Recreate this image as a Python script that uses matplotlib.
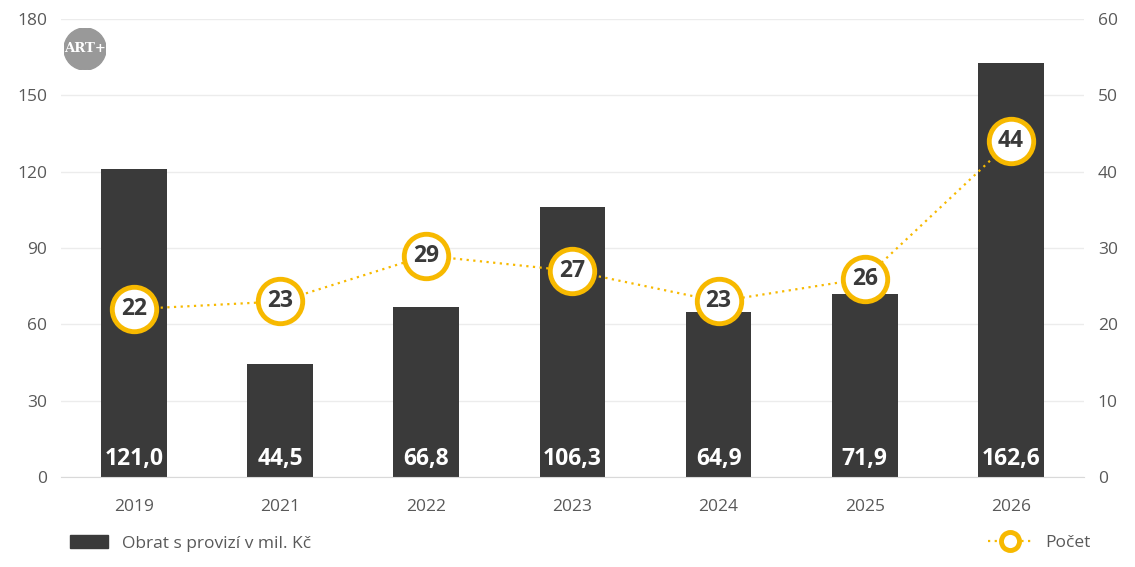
import numpy as np
import matplotlib.pyplot as plt
from matplotlib.lines import Line2D
from matplotlib.patches import Patch

plt.rcParams['font.family'] = ['Open Sans', 'DejaVu Sans']

roky = ['2019', '2021', '2022', '2023', '2024', '2025', '2026']
obrat = [121.0, 44.5, 66.8, 106.3, 64.9, 71.9, 162.6]
pocet = [22, 23, 29, 27, 23, 26, 44]

tmava = '#3a3a3a'
zluta = '#f7b900'
seda = '#595959'

fig = plt.figure(figsize=(11.35, 5.67), dpi=100)
ax = fig.add_axes([0.0537, 0.1587, 0.9013, 0.8078])
ax2 = ax.twinx()

x = np.arange(len(roky))
ax.bar(x, obrat, width=0.45, color=tmava, zorder=2)
for xi, v in zip(x, obrat):
    ax.text(xi, 2.5, f'{v:.1f}'.replace('.', ','), ha='center', va='bottom',
            color='white', fontsize=16.5, fontweight='bold', zorder=3)

ax.set_xlim(-0.5, len(roky) - 0.5)
ax.set_ylim(0, 180)
ax.set_yticks(np.arange(0, 181, 30))
ax.set_xticks(x)
ax.set_xticklabels(roky)
ax.grid(axis='y', color='#ececec', linewidth=1, zorder=0)
ax.set_axisbelow(True)

ax2.plot(x, pocet, linestyle=(0, (1, 2)), color=zluta, linewidth=1.6,
         marker='o', markersize=32, markerfacecolor='white',
         markeredgecolor=zluta, markeredgewidth=3.5, zorder=4)
for xi, v in zip(x, pocet):
    ax2.text(xi, v, str(v), ha='center', va='center', color='#3a3a3a',
             fontsize=16.5, fontweight='bold', zorder=5)
ax2.set_ylim(0, 60)
ax2.set_yticks(np.arange(0, 61, 10))

for a in (ax, ax2):
    for s in a.spines.values():
        s.set_visible(False)
    a.tick_params(length=0, colors=seda, labelsize=12.5)
ax.spines['bottom'].set_visible(True)
ax.spines['bottom'].set_color('#d9d9d9')
ax.tick_params(axis='x', pad=16)
ax.tick_params(axis='y', pad=10)
ax2.tick_params(axis='y', pad=10)

# logo
logo = fig.add_axes([64 / 1135, 1 - 70 / 567, 42 / 1135, 42 / 567])
logo.add_patch(plt.Circle((0.5, 0.5), 0.5, color='#999999'))
logo.text(0.5, 0.5, 'ART+', ha='center', va='center', color='white',
          fontsize=9.5, fontweight='bold', family='DejaVu Serif')
logo.set_xlim(0, 1)
logo.set_ylim(0, 1)
logo.axis('off')

# legenda
fig.legend(handles=[Patch(color=tmava, label='Obrat s provizí v mil. Kč')],
           loc='center left', bbox_to_anchor=(0.048, 0.042), frameon=False,
           fontsize=12.5, labelcolor=seda, handlelength=2.2, handleheight=0.8)
fig.legend(handles=[Line2D([], [], linestyle=(0, (1, 2)), color=zluta, linewidth=1.6,
                           marker='o', markersize=13, markerfacecolor='white',
                           markeredgecolor=zluta, markeredgewidth=3.5, label='Počet')],
           loc='center right', bbox_to_anchor=(0.975, 0.042), frameon=False,
           fontsize=12.5, labelcolor=seda, handlelength=2.5)

fig.savefig('out.png', dpi=100)
